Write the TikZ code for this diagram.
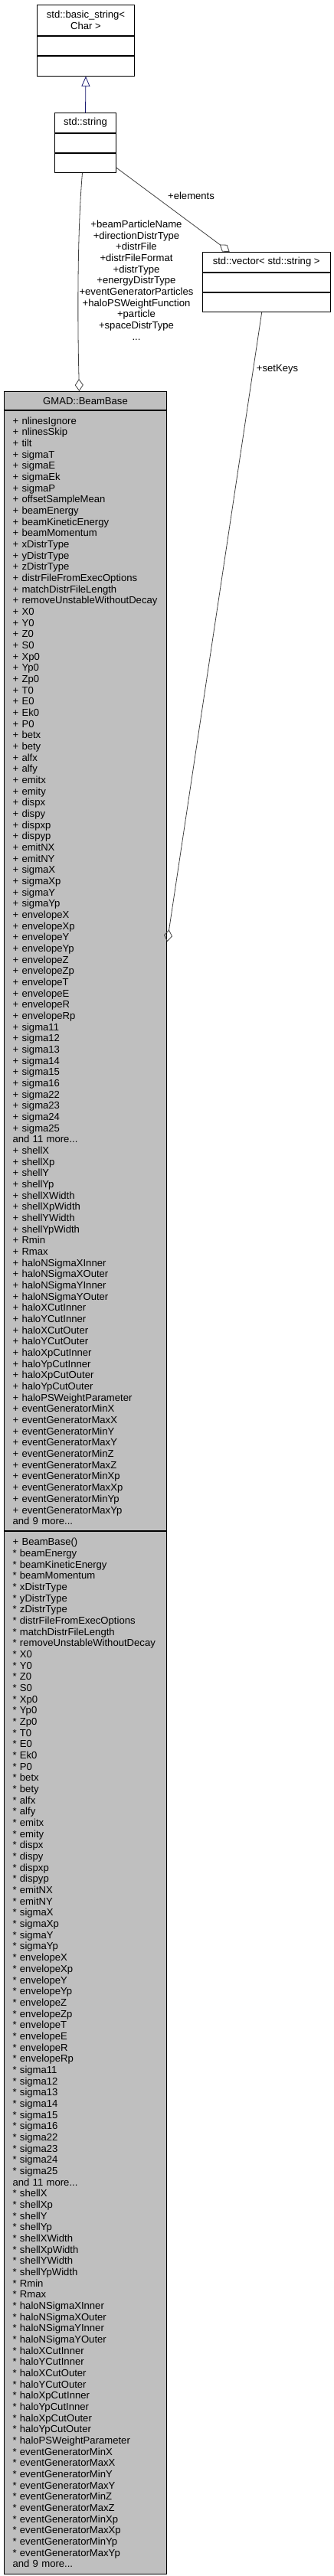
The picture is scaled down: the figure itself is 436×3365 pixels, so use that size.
\documentclass[tikz,border=0pt]{standalone}
\usepackage{fontspec}
\setmainfont{Liberation Sans}
\usepackage{tikz}
\usetikzlibrary{positioning}
\usetikzlibrary{arrows.meta}
\definecolor{edgegrey}{HTML}{404040}
\definecolor{inheritblue}{HTML}{191970}
\definecolor{focusgrey}{HTML}{BFBFBF}
\newcommand{\umlfont}{\fontsize{13.1}{14.67}\selectfont\hyphenpenalty=10000\exhyphenpenalty=10000}
\tikzset{umlbox/.style={rectangle,draw=black,fill=white,line width=1pt,inner sep=0pt,align=center,font=\umlfont}}
\tikzset{umllist/.style={umlbox,align=left,inner xsep=11.3pt,text width=190pt}}
\tikzset{usage/.style={draw=edgegrey,line width=0.8pt,-{Diamond[open,length=16pt,width=11pt]}}}
\tikzset{inherit/.style={draw=inheritblue,line width=0.8pt,-{Triangle[open,length=13pt,width=11pt]}}}
\tikzset{rolelabel/.style={font=\umlfont,align=center,inner sep=0pt}}

\begin{document}
\begin{tikzpicture}[x=1pt,y=-1pt]
  \useasboundingbox[fill=white] (0,0) rectangle (436,3365);

  \node [umlbox, minimum width=127pt, minimum height=40pt, anchor=north west] (B) at (48,5.7) {std::basic\_string<\\Char >};
  \node [umlbox, minimum width=127pt, minimum height=25.3pt, below=0pt of B] (Ba) {};
  \node [umlbox, minimum width=127pt, minimum height=25.7pt, below=0pt of Ba] (Bm) {};

  \node [umlbox, minimum width=80pt, minimum height=25.7pt, anchor=north west] (S) at (71,147) {std::string};
  \node [umlbox, minimum width=80pt, minimum height=25.6pt, below=0pt of S] (Sa) {};
  \node [umlbox, minimum width=80pt, minimum height=24.7pt, below=0pt of Sa] (Sm) {};

  \node [umlbox, minimum width=167pt, minimum height=25.7pt, anchor=north west] (V) at (263.7,329) {std::vector< std::string >};
  \node [umlbox, minimum width=167pt, minimum height=25.3pt, below=0pt of V] (Va) {};
  \node [umlbox, minimum width=167pt, minimum height=25pt, below=0pt of Va] (Vm) {};

  \node [umlbox, fill=focusgrey, minimum width=212.6pt, minimum height=24pt, anchor=north west] (G) at (4.7,511) {GMAD::BeamBase};
  \node [umllist, fill=focusgrey, minimum height=1463.3pt, below=0pt of G] (Ga) {
    + nlinesIgnore\\
    + nlinesSkip\\
    + tilt\\
    + sigmaT\\
    + sigmaE\\
    + sigmaEk\\
    + sigmaP\\
    + offsetSampleMean\\
    + beamEnergy\\
    + beamKineticEnergy\\
    + beamMomentum\\
    + xDistrType\\
    + yDistrType\\
    + zDistrType\\
    +~distrFileFromExecOptions\\
    + matchDistrFileLength\\
    +~removeUnstableWithoutDecay\\
    + X0\\
    + Y0\\
    + Z0\\
    + S0\\
    + Xp0\\
    + Yp0\\
    + Zp0\\
    + T0\\
    + E0\\
    + Ek0\\
    + P0\\
    + betx\\
    + bety\\
    + alfx\\
    + alfy\\
    + emitx\\
    + emity\\
    + dispx\\
    + dispy\\
    + dispxp\\
    + dispyp\\
    + emitNX\\
    + emitNY\\
    + sigmaX\\
    + sigmaXp\\
    + sigmaY\\
    + sigmaYp\\
    + envelopeX\\
    + envelopeXp\\
    + envelopeY\\
    + envelopeYp\\
    + envelopeZ\\
    + envelopeZp\\
    + envelopeT\\
    + envelopeE\\
    + envelopeR\\
    + envelopeRp\\
    + sigma11\\
    + sigma12\\
    + sigma13\\
    + sigma14\\
    + sigma15\\
    + sigma16\\
    + sigma22\\
    + sigma23\\
    + sigma24\\
    + sigma25\\
    and 11 more...\\
    + shellX\\
    + shellXp\\
    + shellY\\
    + shellYp\\
    + shellXWidth\\
    + shellXpWidth\\
    + shellYWidth\\
    + shellYpWidth\\
    + Rmin\\
    + Rmax\\
    + haloNSigmaXInner\\
    + haloNSigmaXOuter\\
    + haloNSigmaYInner\\
    + haloNSigmaYOuter\\
    + haloXCutInner\\
    + haloYCutInner\\
    + haloXCutOuter\\
    + haloYCutOuter\\
    + haloXpCutInner\\
    + haloYpCutInner\\
    + haloXpCutOuter\\
    + haloYpCutOuter\\
    +~haloPSWeightParameter\\
    + eventGeneratorMinX\\
    + eventGeneratorMaxX\\
    + eventGeneratorMinY\\
    + eventGeneratorMaxY\\
    + eventGeneratorMinZ\\
    + eventGeneratorMaxZ\\
    + eventGeneratorMinXp\\
    + eventGeneratorMaxXp\\
    + eventGeneratorMinYp\\
    + eventGeneratorMaxYp\\
    and 9 more...};
  \node [umllist, fill=focusgrey, minimum height=1361.7pt, below=0pt of Ga] (Gm) {
    + BeamBase()\\
    {*} beamEnergy\\
    {*} beamKineticEnergy\\
    {*} beamMomentum\\
    {*} xDistrType\\
    {*} yDistrType\\
    {*} zDistrType\\
    {*}~distrFileFromExecOptions\\
    {*} matchDistrFileLength\\
    {*}~removeUnstableWithoutDecay\\
    {*} X0\\
    {*} Y0\\
    {*} Z0\\
    {*} S0\\
    {*} Xp0\\
    {*} Yp0\\
    {*} Zp0\\
    {*} T0\\
    {*} E0\\
    {*} Ek0\\
    {*} P0\\
    {*} betx\\
    {*} bety\\
    {*} alfx\\
    {*} alfy\\
    {*} emitx\\
    {*} emity\\
    {*} dispx\\
    {*} dispy\\
    {*} dispxp\\
    {*} dispyp\\
    {*} emitNX\\
    {*} emitNY\\
    {*} sigmaX\\
    {*} sigmaXp\\
    {*} sigmaY\\
    {*} sigmaYp\\
    {*} envelopeX\\
    {*} envelopeXp\\
    {*} envelopeY\\
    {*} envelopeYp\\
    {*} envelopeZ\\
    {*} envelopeZp\\
    {*} envelopeT\\
    {*} envelopeE\\
    {*} envelopeR\\
    {*} envelopeRp\\
    {*} sigma11\\
    {*} sigma12\\
    {*} sigma13\\
    {*} sigma14\\
    {*} sigma15\\
    {*} sigma16\\
    {*} sigma22\\
    {*} sigma23\\
    {*} sigma24\\
    {*} sigma25\\
    and 11 more...\\
    {*} shellX\\
    {*} shellXp\\
    {*} shellY\\
    {*} shellYp\\
    {*} shellXWidth\\
    {*} shellXpWidth\\
    {*} shellYWidth\\
    {*} shellYpWidth\\
    {*} Rmin\\
    {*} Rmax\\
    {*} haloNSigmaXInner\\
    {*} haloNSigmaXOuter\\
    {*} haloNSigmaYInner\\
    {*} haloNSigmaYOuter\\
    {*} haloXCutInner\\
    {*} haloYCutInner\\
    {*} haloXCutOuter\\
    {*} haloYCutOuter\\
    {*} haloXpCutInner\\
    {*} haloYpCutInner\\
    {*} haloXpCutOuter\\
    {*} haloYpCutOuter\\
    {*}~haloPSWeightParameter\\
    {*} eventGeneratorMinX\\
    {*} eventGeneratorMaxX\\
    {*} eventGeneratorMinY\\
    {*} eventGeneratorMaxY\\
    {*} eventGeneratorMinZ\\
    {*} eventGeneratorMaxZ\\
    {*} eventGeneratorMinXp\\
    {*} eventGeneratorMaxXp\\
    {*} eventGeneratorMinYp\\
    {*} eventGeneratorMaxYp\\
    and 9 more...};

  \draw [inherit] (S.north) -- (Bm.south);
  \draw [usage] ([xshift=-4pt]Sm.south) .. controls (101,300) and (101,420) .. ([xshift=-8pt]G.north);
  \node [rolelabel] (L) at (178,366) {+beamParticleName\\+directionDistrType\\+distrFile\\+distrFileFormat\\+distrType\\+energyDistrType\\+eventGeneratorParticles\\+haloPSWeightFunction\\+particle\\+spaceDistrType\\...};
  \draw [usage] ([yshift=-6pt]Sm.east) -- node [rolelabel, pos=0.33, anchor=west, xshift=18pt] {+elements} ([xshift=-48pt]V.north);
  \draw [usage] ([xshift=-6pt]Vm.south) -- node [rolelabel, pos=0.09, anchor=west, xshift=4pt] {+setKeys} ([yshift=38pt]Ga.east);
\end{tikzpicture}
\end{document}
